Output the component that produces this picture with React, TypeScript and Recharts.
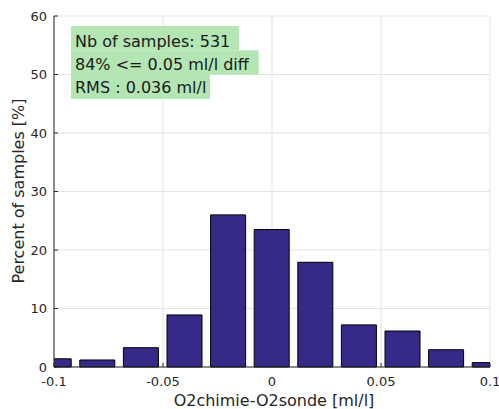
import React from 'react';
import { BarChart, Bar, XAxis, YAxis, CartesianGrid, Customized } from 'recharts';

const binCenters = [-0.1, -0.08, -0.06, -0.04, -0.02, 0, 0.02, 0.04, 0.06, 0.08, 0.1];
const percents = [1.4, 1.2, 3.3, 8.9, 26.0, 23.5, 17.9, 7.2, 6.15, 2.95, 0.75];
const xTicks = [-0.1, -0.05, 0, 0.05, 0.1];
const xTickLabels = ['-0.1', '-0.05', '0', '0.05', '0.1'];
const yTicks = [0, 10, 20, 30, 40, 50, 60];
const infoLines = ['Nb of samples: 531', '84% <= 0.05 ml/l diff', 'RMS : 0.036 ml/l'];

const data = binCenters.map((x, i) => ({ x, p: percents[i] }));

const FONT = 'DejaVu Sans, sans-serif';
const AX = '#262626';

const XTick = (props: any) => {
  const { x, y, payload, index } = props;
  const label = xTickLabels[index] ?? String(payload.value);
  return (
    <text x={x} y={y} dy={9.2} textAnchor="middle" fontSize={13} fontFamily={FONT} fill={AX}>
      {label}
    </text>
  );
};

const Overlay = () => {
  const rects = [
    { y: 18, h: 24.3, w: 168 },
    { y: 42.3, h: 24.3, w: 187.7 },
    { y: 66.6, h: 24.4, w: 139 },
  ];
  const baselines = [38.5, 61.5, 84.5];
  return (
    <g>
      {rects.map((r, i) => (
        <rect key={'r' + i} x={63} y={r.y} width={r.w} height={r.h} fill="#b3e6b3" />
      ))}
      {infoLines.map((t, i) => (
        <text key={'t' + i} x={67} y={baselines[i]} fontSize={16} fontFamily={FONT} fill="#1a1a1a">
          {t}
        </text>
      ))}
      <text x={266} y={398} fontSize={16} fontFamily={FONT} fill={AX} textAnchor="middle">
        O2chimie-O2sonde [ml/l]
      </text>
      <text
        x={10.5}
        y={183}
        fontSize={16}
        fontFamily={FONT}
        fill={AX}
        textAnchor="middle"
        dominantBaseline="central"
        transform="rotate(-90 10.5 183)"
      >
        Percent of samples [%]
      </text>
    </g>
  );
};

export default function App() {
  return (
    <div style={{ width: 499, height: 409, boxSizing: 'border-box', paddingLeft: 8, paddingTop: 8, overflow: 'hidden' }}>
      <style>{'body{margin:0}'}</style>
      <BarChart
        width={491}
        height={401}
        data={data}
        margin={{ top: 8, right: 9, left: 0, bottom: 8 }}
      >
        <CartesianGrid stroke="#e3e3e3" strokeWidth={1} />
        <XAxis
          dataKey="x"
          type="number"
          domain={[-0.1, 0.1]}
          ticks={xTicks}
          allowDataOverflow
          height={34}
          tickSize={-4}
          tickMargin={14}
          stroke={AX}
          tick={<XTick />}
          interval={0}
        />
        <XAxis
          xAxisId="top"
          orientation="top"
          type="number"
          domain={[-0.1, 0.1]}
          ticks={xTicks}
          height={0}
          tick={false}
          tickSize={-4}
          stroke={AX}
          interval={0}
        />
        <YAxis
          type="number"
          domain={[0, 60]}
          ticks={yTicks}
          width={46}
          tickSize={-4}
          tickMargin={11}
          stroke={AX}
          tick={{ fill: AX, fontSize: 13, fontFamily: FONT }}
          interval={0}
        />
        <YAxis
          yAxisId="right"
          orientation="right"
          type="number"
          domain={[0, 60]}
          ticks={yTicks}
          width={0}
          tick={false}
          tickSize={-4}
          stroke={AX}
          interval={0}
        />
        <Bar
          dataKey="p"
          fill="#352a87"
          stroke="#000"
          strokeWidth={1}
          barSize={35}
          isAnimationActive={false}
        />
        <Customized component={Overlay} />
      </BarChart>
    </div>
  );
}
